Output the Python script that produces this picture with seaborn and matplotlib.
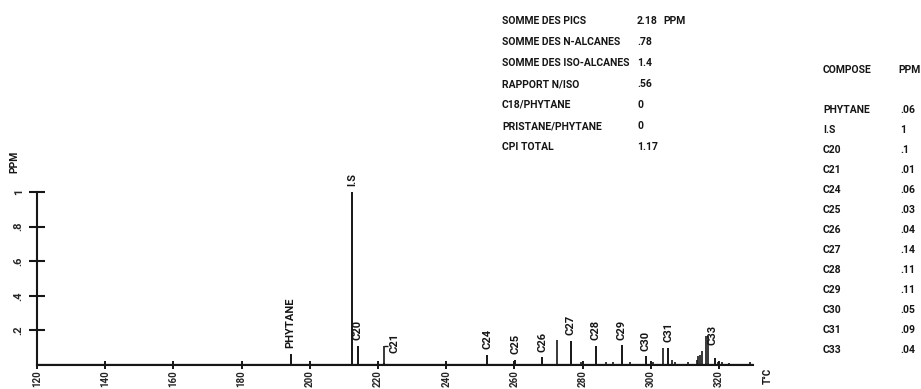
"""Chromatogram of alkanes with peak labels and a summary table."""

import matplotlib

matplotlib.use("Agg")
import matplotlib.pyplot as plt
import numpy as np
import pandas as pd
import seaborn as sns

# summary block (top)
summary_labels = [
    "SOMME DES PICS",
    "SOMME DES N-ALCANES",
    "SOMME DES ISO-ALCANES",
    "RAPPORT N/ISO",
    "C18/PHYTANE",
    "PRISTANE/PHYTANE",
    "CPI TOTAL",
]
summary_values = ["2.18", ".78", "1.4", ".56", "0", "0", "1.17"]

# compound table (right)
compounds = ["PHYTANE", "I.S", "C20", "C21", "C24", "C25", "C26",
             "C27", "C28", "C29", "C30", "C31", "C33"]
compound_ppm = [".06", "1", ".1", ".01", ".06", ".03", ".04",
                ".14", ".11", ".11", ".05", ".09", ".04"]

# labelled peaks: retention temperature (degC) and height (ppm)
peak_temps = [194.4, 212.5, 214.1, 221.7, 252.0, 260.3, 268.2,
              276.5, 283.9, 291.5, 298.5, 305.2, 318.8]
peak_heights = [0.065, 1.0, 0.11, 0.01, 0.06, 0.03, 0.045,
                0.14, 0.11, 0.115, 0.05, 0.10, 0.04]

# unlabelled peaks
minor_temps = [272.4, 279.5, 287.0, 289.0, 294.0, 300.7, 303.5, 306.2,
               307.2, 311.0, 313.5, 314.0, 314.5, 315.0, 316.2, 316.8,
               319.6, 321.0, 323.0, 329.0]
minor_heights = [0.144, 0.02, 0.015, 0.015, 0.02, 0.02, 0.10, 0.03,
                 0.02, 0.015, 0.03, 0.05, 0.06, 0.08, 0.17, 0.17,
                 0.02, 0.02, 0.01, 0.015]

x_ticks = [120, 140, 160, 180, 200, 220, 240, 260, 280, 300, 320]
y_ticks = [0.2, 0.4, 0.6, 0.8, 1.0]
y_tick_labels = [".2", ".4", ".6", ".8", "1"]

INK = "#161616"
W, H = 921, 389
FS = 7.5

sns.set_theme(style="white")
plt.rcParams["font.family"] = ["Roboto", "DejaVu Sans"]
plt.rcParams["font.weight"] = "bold"
plt.rcParams["text.color"] = INK

peaks = pd.DataFrame({"name": compounds, "temp": peak_temps, "height": peak_heights})
minor = pd.DataFrame({"temp": minor_temps, "height": minor_heights})

fig = plt.figure(figsize=(W / 100, H / 100), dpi=100)
fig.patch.set_facecolor("white")
ax = fig.add_axes([37 / W, 24 / H, 716 / W, 173 / H])
ax.set_facecolor("white")

# baseline trace and peaks
ax.plot([120, 330], [0, 0], color=INK, lw=1.6, solid_capstyle="butt")
ax.vlines(peaks["temp"], 0, peaks["height"], color=INK, lw=1.4)
ax.vlines(minor["temp"], 0, minor["height"], color=INK, lw=1.2)

# leader line for the tiny C21 peak
c21 = peaks.loc[peaks["name"] == "C21"].iloc[0]
ax.vlines(c21["temp"], 0, 0.11, color=INK, lw=1.2)
ax.hlines(0.11, c21["temp"], c21["temp"] + 1.2, color=INK, lw=1.0)

nudge = {"C21": (8, 0.03), "C33": (-2, 0.045)}
for _, row in peaks.iterrows():
    dx, dy = nudge.get(row["name"], (0, 0))
    ax.annotate(
        row["name"],
        xy=(row["temp"], row["height"] + dy),
        xytext=(dx, 4),
        textcoords="offset points",
        rotation=90,
        ha="center",
        va="bottom",
        fontsize=8,
        annotation_clip=False,
    )

ax.set_xlim(120, 330)
ax.set_ylim(0, 1)
ax.set_xticks(x_ticks)
ax.set_xticklabels([str(t) for t in x_ticks], rotation=90, fontsize=7)
ax.set_yticks(y_ticks)
ax.set_yticklabels(y_tick_labels, rotation=90, va="center", fontsize=8)
ax.tick_params(axis="x", direction="inout", length=6, width=1.4,
               color=INK, pad=0.5, bottom=True)
ax.tick_params(axis="y", direction="inout", length=11, width=1.5,
               color=INK, pad=4, left=True)
sns.despine(ax=ax, top=True, right=True)
for side in ("left", "bottom"):
    ax.spines[side].set_color(INK)
    ax.spines[side].set_linewidth(1.5)

fig.text(14 / W, 1 - 162 / H, "PPM", rotation=90, ha="center", va="center", fontsize=FS)
fig.text(768 / W, 1 - 376 / H, "T°C", rotation=90, ha="center", va="center", fontsize=7)

# summary block
for i, (lab, val) in enumerate(zip(summary_labels, summary_values)):
    y = 1 - (21 + 21 * i) / H
    fig.text(502 / W, y, lab, ha="left", va="center", fontsize=FS)
    fig.text(637 / W, y, val, ha="left", va="center", fontsize=FS)
fig.text(663 / W, 1 - 21 / H, "PPM", ha="left", va="center", fontsize=FS)

# compound table
fig.text(823 / W, 1 - 70 / H, "COMPOSE", ha="left", va="center", fontsize=FS)
fig.text(898 / W, 1 - 70 / H, "PPM", ha="left", va="center", fontsize=FS)
for i, (name, val) in enumerate(zip(compounds, compound_ppm)):
    y = 1 - (110 + 20 * i) / H
    fig.text(823 / W, y, name, ha="left", va="center", fontsize=FS)
    fig.text(900 / W, y, val, ha="left", va="center", fontsize=FS)

fig.savefig("out.png", dpi=100, facecolor="white")
